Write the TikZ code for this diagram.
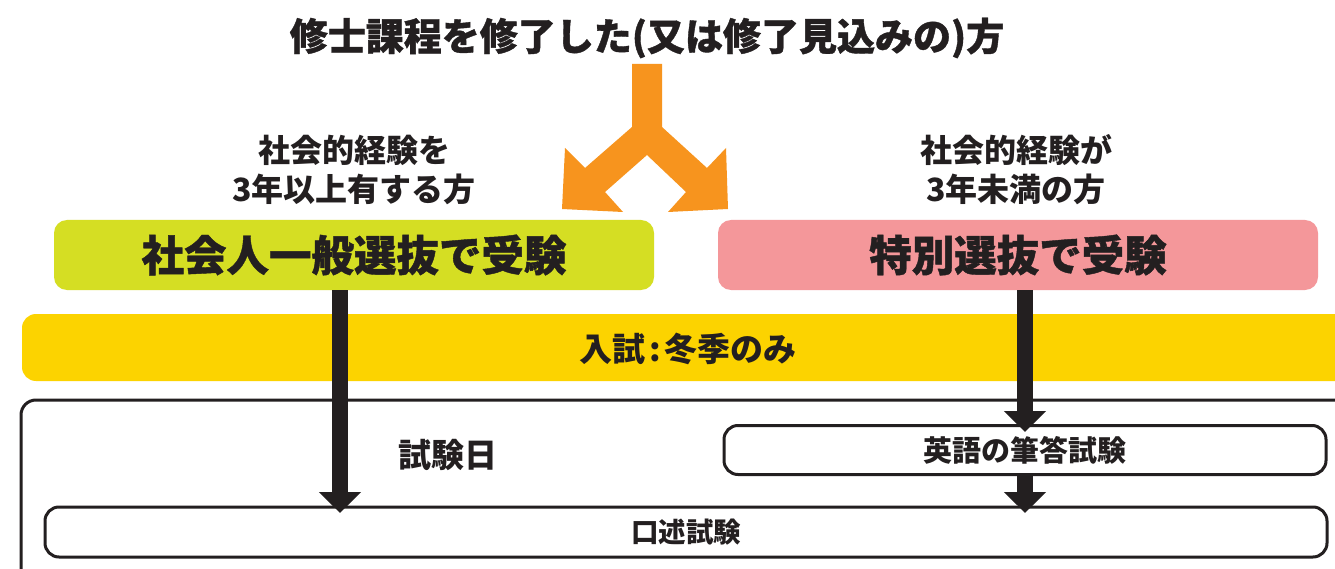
\documentclass[tikz,border=0pt]{standalone}
\usepackage{fontspec}
\setmainfont{Noto Sans CJK JP}
\newfontfamily\heavy{Noto Sans CJK JP}[BoldFeatures={FakeBold=1}]
\usetikzlibrary{arrows.meta}
\definecolor{org}{HTML}{F7941E}
\definecolor{grn}{HTML}{D5DE23}
\definecolor{pnk}{HTML}{F4979A}
\definecolor{ylw}{HTML}{FCD300}
\definecolor{blk}{HTML}{231F20}
\newcommand{\fs}[1]{\fontsize{#1}{#1}\selectfont}
\tikzset{
  txt/.style={text=blk, font=\bfseries\fs{31}, inner sep=0pt, align=center},
  bigbox/.style={rounded corners=13pt, minimum width=600pt, minimum height=70pt, inner sep=0pt, text=blk, font=\heavy\bfseries\fs{42.5}},
  outbox/.style={draw=blk, line width=3pt, rounded corners=15pt, fill=white},
  exbox/.style={draw=blk, line width=3pt, rounded corners=14pt, fill=white, inner sep=0pt, text=blk},
  darrow/.style={draw=blk, line width=16pt, -{Triangle[width=41pt,length=21pt]}},
}
\begin{document}
\begin{tikzpicture}[x=1pt,y=-1pt]
\clip (0,0) rectangle (1335,569);
\fill[white] (0,0) rectangle (1335,569);
% title
\node[txt, font=\heavy\bfseries\fs{38}] (title) at (647,38) {修士課程を修了した(又は修了見込みの)方};
% orange split arrow
\fill[org] (632,64) -- (662,64) -- (662,127) -- (707,168) -- (726,148) -- (728,209) -- (668,212) -- (686,192) -- (647,155) -- (605,192) -- (623,212) -- (562,209) -- (565,148) -- (585,168) -- (632,127) -- cycle;
% conditions
\node[txt, font=\bfseries\fs{32}] (cl) at (354,170) {社会的経験を\\[7pt]3年以上有する方};
\node[txt, font=\bfseries\fs{32}] (cr) at (1016,170) {社会的経験が\\[7pt]3年未満の方};
% selection boxes
\node[bigbox, fill=grn] (gen) at (354,255) {社会人一般選抜で受験};
\node[bigbox, fill=pnk] (spc) at (1018,255) {特別選抜で受験};
% yellow band
\fill[ylw, rounded corners=14pt] (22,314) rectangle (1380,381);
\node[txt, font=\bfseries\fs{33}] (season) at (688,349) {入試\hspace{0.1em}:\hspace{0.1em}冬季のみ};
% outer box
\draw[outbox] (21,400) rectangle (1380,620);
\node[txt, font=\bfseries\fs{33}] (day) at (448,455) {試験日};
\node[exbox, minimum width=602pt, minimum height=49pt, font=\bfseries\fs{29}] (eng) at (1025,450) {英語の筆答試験};
\node[exbox, minimum width=1282pt, minimum height=50pt, font=\bfseries\fs{27.5}] (oral) at (686,532) {口述試験};
% coordinates for arrow tips
\coordinate (tl) at (340,513);
\coordinate (tr) at (1025,432);
\coordinate (tr2) at (1025,513);
% black arrows
\draw[darrow] (gen.south -| tl) -- (tl);
\draw[darrow] (spc.south -| tr) -- (tr);
\draw[darrow] (eng.south -| tr2) -- (tr2);
\end{tikzpicture}
\end{document}
